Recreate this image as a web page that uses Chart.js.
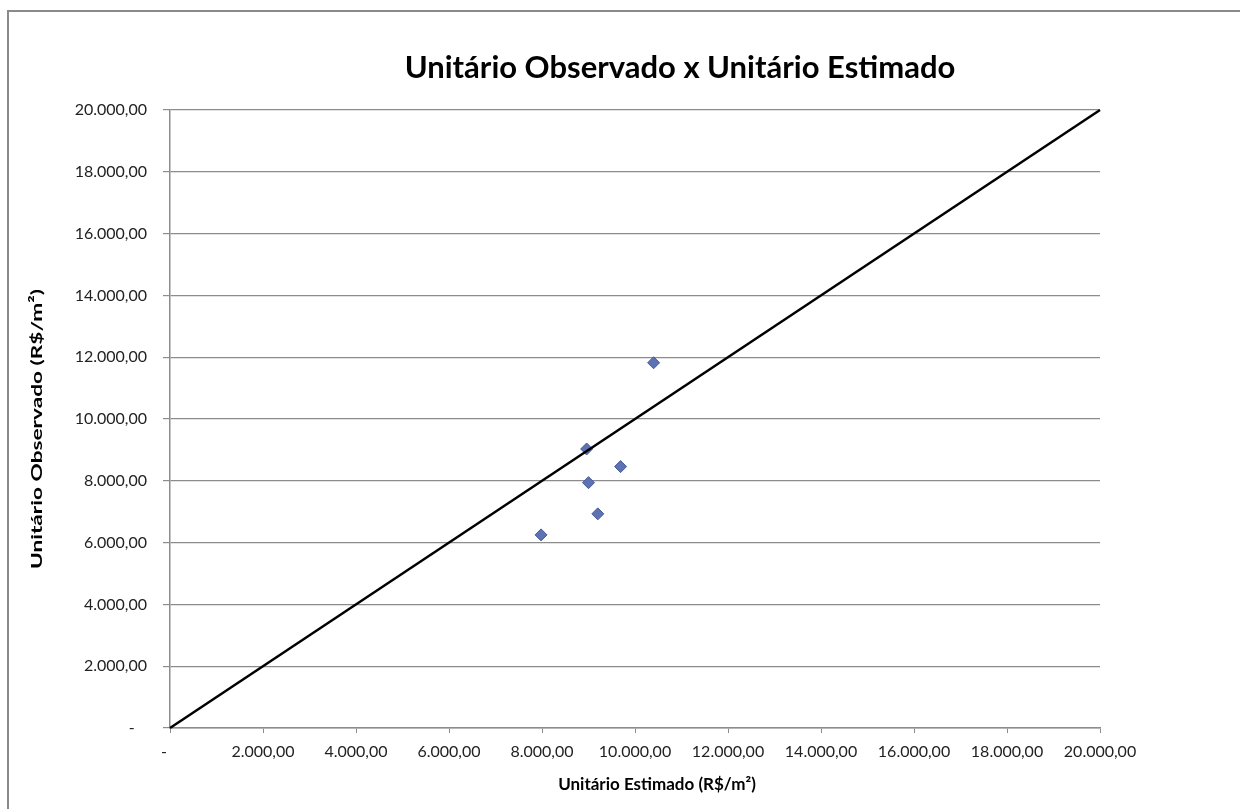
<!DOCTYPE html>
<html lang="pt-BR">
<head>
<meta charset="utf-8">
<title>Unitário Observado x Unitário Estimado</title>
<script src="https://cdn.jsdelivr.net/npm/chart.js@4.4.1/dist/chart.umd.min.js"></script>
<style>
  html, body { margin: 0; padding: 0; background: #ffffff; }
  #wrap { width: 1240px; height: 809px; position: relative; }
</style>
</head>
<body>
<div id="wrap"><canvas id="chart" width="1240" height="809"></canvas></div>
<script>
// Observed unit price versus estimated unit price (R$/m²)
const estimado = [7980, 8960, 9000, 9200, 9690, 10400];
const observado = [6250, 9030, 7940, 6930, 8460, 11820];

// Reference line observed = estimated
const refX = [0, 20000];
const refY = [0, 20000];

const axisMin = 0;
const axisMax = 20000;
const axisStep = 2000;

const chartTitle = 'Unitário Observado x Unitário Estimado';
const xTitle = 'Unitário Estimado (R$/m²)';
const yTitle = 'Unitário Observado (R$/m²)';

const FONT = 'Lato, "Open Sans", sans-serif';

// Brazilian accounting style: 2.000,00 and a dash for zero
function fmtBR(v) {
  if (v === 0) return '-\u00a0\u00a0\u00a0';
  return v.toLocaleString('pt-BR', { minimumFractionDigits: 2, maximumFractionDigits: 2 });
}

const points = estimado.map((x, i) => ({ x: x, y: observado[i] }));
const refLine = refX.map((x, i) => ({ x: x, y: refY[i] }));

// Frame along the top and left edges, the heading and both axis titles
const framePlugin = {
  id: 'frame',
  beforeDraw(chart) {
    const ctx = chart.ctx;
    ctx.save();
    ctx.fillStyle = '#ffffff';
    ctx.fillRect(0, 0, chart.width, chart.height);
    ctx.strokeStyle = '#8a8a8a';
    ctx.lineWidth = 2;
    ctx.beginPath();
    ctx.moveTo(8, chart.height);
    ctx.lineTo(8, 11);
    ctx.lineTo(chart.width, 11);
    ctx.stroke();
    ctx.restore();
  },
  afterDraw(chart) {
    const ctx = chart.ctx;
    ctx.save();
    ctx.fillStyle = '#000000';
    ctx.textAlign = 'center';
    ctx.textBaseline = 'middle';

    ctx.font = 'bold 31px ' + FONT;
    ctx.fillText(chartTitle, 680, 68);

    ctx.font = 'bold 17px ' + FONT;
    ctx.fillText(xTitle, 657, 785);

    // vertical title, a little taller along its length
    ctx.translate(37, 429);
    ctx.rotate(-Math.PI / 2);
    ctx.font = 'bold 16px ' + FONT;
    const w = ctx.measureText(yTitle).width;
    ctx.scale(280 / w, 1);
    ctx.fillText(yTitle, 0, 0);
    ctx.restore();
  }
};

new Chart(document.getElementById('chart'), {
  type: 'scatter',
  data: {
    datasets: [
      {
        label: 'Referência',
        data: refLine,
        showLine: true,
        borderColor: '#000000',
        borderWidth: 2.5,
        pointRadius: 0,
        clip: false
      },
      {
        label: 'Amostra',
        data: points,
        pointStyle: 'rectRot',
        pointRadius: 6,
        pointBackgroundColor: '#5d72b4',
        pointBorderColor: '#4a5b96',
        pointBorderWidth: 1
      }
    ]
  },
  options: {
    responsive: false,
    animation: false,
    layout: { padding: { top: 110, right: 140, bottom: 0, left: 10 } },
    plugins: {
      legend: { display: false },
      tooltip: { enabled: false },
      title: { display: false }
    },
    scales: {
      x: {
        type: 'linear',
        min: axisMin,
        max: axisMax,
        afterFit(scale) { scale.height = 81; },
        afterBuildTicks(scale) {
          scale.ticks = [];
          for (let v = axisMin; v <= axisMax; v += axisStep) scale.ticks.push({ value: v });
        },
        ticks: {
          callback: (v) => fmtBR(v),
          font: { family: FONT, size: 16 },
          color: '#222222',
          padding: 9,
          maxRotation: 0,
          autoSkip: false
        },
        grid: { display: true, drawOnChartArea: false, drawTicks: true, tickLength: 5, color: '#8c8c8c' },
        border: { display: true, color: '#8c8c8c', width: 1.5 },
        title: { display: false }
      },
      y: {
        type: 'linear',
        min: axisMin,
        max: axisMax,
        afterFit(scale) { scale.width = 160; },
        afterBuildTicks(scale) {
          scale.ticks = [];
          for (let v = axisMin; v <= axisMax; v += axisStep) scale.ticks.push({ value: v });
        },
        ticks: {
          callback: (v) => fmtBR(v),
          font: { family: FONT, size: 16 },
          color: '#222222',
          padding: 16,
          autoSkip: false
        },
        grid: { display: true, drawTicks: true, tickLength: 7, color: '#8c8c8c', lineWidth: 1.2 },
        border: { display: true, color: '#8c8c8c', width: 1.5 },
        title: { display: false }
      }
    }
  },
  plugins: [framePlugin]
});
</script>
</body>
</html>
